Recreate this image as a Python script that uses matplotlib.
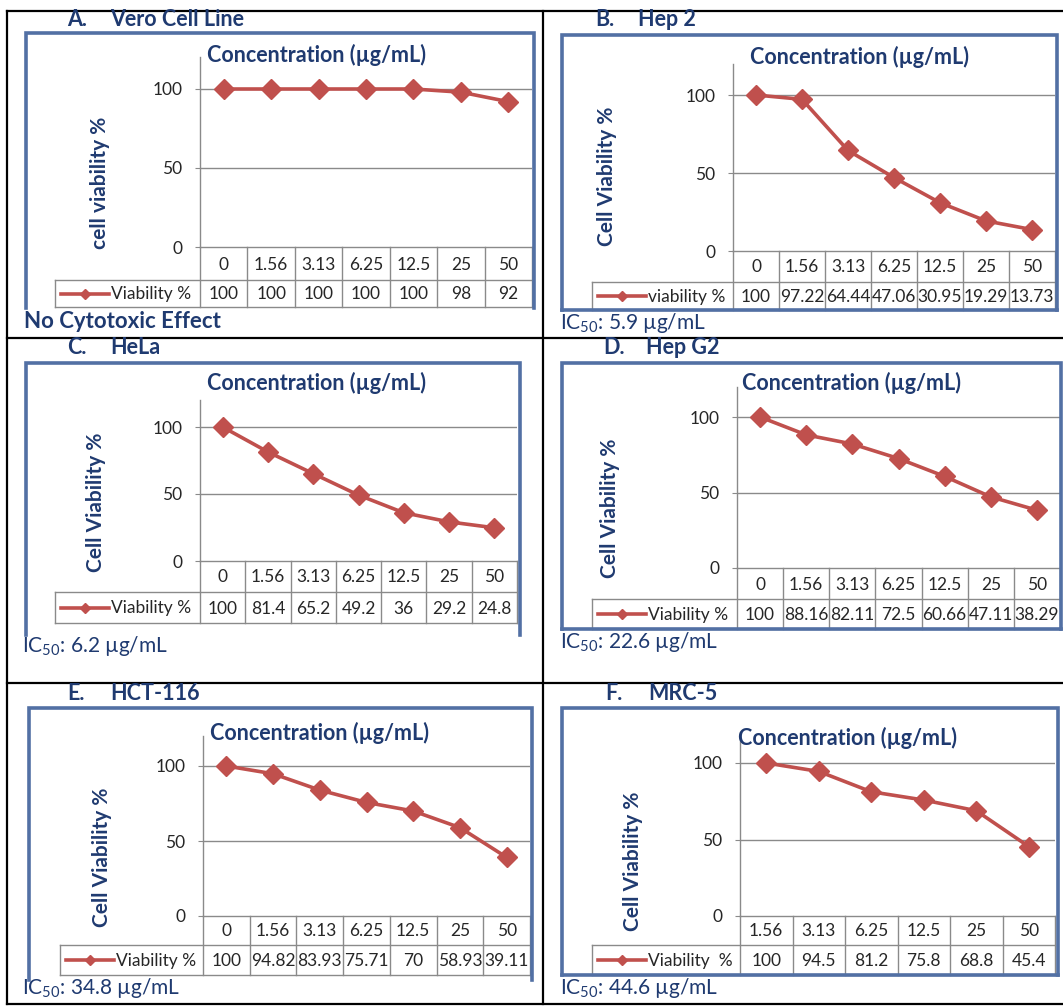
import matplotlib
matplotlib.use("Agg")
import matplotlib.pyplot as plt
from matplotlib.lines import Line2D
from matplotlib.text import Text
import matplotlib.transforms as mtransforms

plt.rcParams['font.family'] = ['Lato', 'DejaVu Sans']
plt.rcParams['mathtext.fontset'] = 'custom'
plt.rcParams['mathtext.rm'] = 'Lato'
plt.rcParams['mathtext.bf'] = 'Lato:bold'
plt.rcParams['mathtext.it'] = 'Lato:italic'

# ---------------- data ----------------
conc7 = ["0", "1.56", "3.13", "6.25", "12.5", "25", "50"]
conc6 = ["1.56", "3.13", "6.25", "12.5", "25", "50"]

vero_vals = [100, 100, 100, 100, 100, 98, 92]
vero_labels = ["100", "100", "100", "100", "100", "98", "92"]
hep2_vals = [100, 97.22, 64.44, 47.06, 30.95, 19.29, 13.73]
hep2_labels = ["100", "97.22", "64.44", "47.06", "30.95", "19.29", "13.73"]
hela_vals = [100, 81.4, 65.2, 49.2, 36, 29.2, 24.8]
hela_labels = ["100", "81.4", "65.2", "49.2", "36", "29.2", "24.8"]
hepg2_vals = [100, 88.16, 82.11, 72.5, 60.66, 47.11, 38.29]
hepg2_labels = ["100", "88.16", "82.11", "72.5", "60.66", "47.11", "38.29"]
hct_vals = [100, 94.82, 83.93, 75.71, 70, 58.93, 39.11]
hct_labels = ["100", "94.82", "83.93", "75.71", "70", "58.93", "39.11"]
mrc_vals = [100, 94.5, 81.2, 75.8, 68.8, 45.4]
mrc_labels = ["100", "94.5", "81.2", "75.8", "68.8", "45.4"]

title_letters = ["A.", "B.", "C.", "D.", "E.", "F."]
title_names = ["Vero Cell Line", "Hep 2", "HeLa", "Hep G2", "HCT-116", "MRC-5"]
ylabels = ["cell viability %", "Cell Viability %", "Cell Viability %",
           "Cell Viability %", "Cell Viability %", "Cell Viability %"]
legend_labels = ["Viability %", "viability %", "Viability %", "Viability %",
                 "Viability %", "Viability  %"]
notes = ["No Cytotoxic Effect", r"IC$_{50}$: 5.9 µg/mL", r"IC$_{50}$: 6.2 µg/mL",
         r"IC$_{50}$: 22.6 µg/mL", r"IC$_{50}$: 34.8 µg/mL", r"IC$_{50}$: 44.6 µg/mL"]
xtitle = "Concentration (µg/mL)"
yticks = [0, 50, 100]

# ---------------- layout (pixels) ----------------
W, H = 1063, 1006
NAVY = "#1f3a70"
RED = "#c0504d"
GRID = "#8a8a8a"
FRAME = "#5270a4"
TXT = "#262626"

panels = [
    dict(cats=conc7, vals=vero_vals, labs=vero_labels, axl=200, axr=532, y0=247, y100=89,
         r1=280, r2=307, legl=55, frame=(26, 33, 534, 308), fbottom=False,
         title=(67, 20), yl=(100, 183), note=(24, 321), nbold=True, conc=(207, 55)),
    dict(cats=conc7, vals=hep2_vals, labs=hep2_labels, axl=733, axr=1055, y0=251, y100=95,
         r1=282, r2=310, legl=592, frame=(562, 35, 1057, 310), fbottom=True,
         title=(595, 20), yl=(607, 176), note=(560, 323), nbold=False, conc=(750, 57)),
    dict(cats=conc7, vals=hela_vals, labs=hela_labels, axl=200, axr=517, y0=561, y100=427,
         r1=592, r2=623, legl=55, frame=(26, 363, 520, 635), fbottom=False,
         title=(67, 348), yl=(96, 502), note=(22, 646), nbold=False, conc=(207, 383)),
    dict(cats=conc7, vals=hepg2_vals, labs=hepg2_labels, axl=737, axr=1060, y0=568, y100=417,
         r1=599, r2=629, legl=592, frame=(562, 363, 1061, 629), fbottom=True,
         title=(603, 348), yl=(610, 508), note=(560, 642), nbold=False, conc=(742, 383)),
    dict(cats=conc7, vals=hct_vals, labs=hct_labels, axl=203, axr=530, y0=916, y100=766,
         r1=945, r2=975, legl=60, frame=(29, 708, 532, 980), fbottom=False,
         title=(67, 693), yl=(102, 857), note=(22, 988), nbold=False, conc=(210, 733)),
    dict(cats=conc6, vals=mrc_vals, labs=mrc_labels, axl=740, axr=1055, y0=916, y100=763,
         r1=945, r2=975, legl=592, frame=(562, 708, 1058, 975), fbottom=True,
         title=(605, 693), yl=(633, 861), note=(560, 988), nbold=False, conc=(738, 738)),
]


def fx(x):
    return x / W


def fy(y):
    return 1 - y / H


fig = plt.figure(figsize=(W / 100, H / 100), dpi=100)
fig.patch.set_facecolor("white")


def fline(xs, ys, **kw):
    fig.add_artist(Line2D([fx(x) for x in xs], [fy(y) for y in ys],
                          transform=fig.transFigure, **kw))


# outer black grid
for y in (11, 338, 683, 1004):
    fline([7, 1063], [y, y], color="black", lw=1.6)
for x in (7, 543):
    fline([x, x], [11, 1004], color="black", lw=1.6)

for i, p in enumerate(panels):
    n = len(p['cats'])
    ppu = (p['y0'] - p['y100']) / 100.0
    top = p['y0'] - 120 * ppu
    ax = fig.add_axes([fx(p['axl']), fy(p['y0']), (p['axr'] - p['axl']) / W,
                       (p['y0'] - top) / H])
    ax.set_facecolor("none")
    xs = list(range(n))
    ax.plot(xs, p['vals'], color=RED, lw=2.6, marker='D', ms=10,
            markerfacecolor=RED, markeredgecolor=RED, zorder=3, clip_on=False)
    ax.set_xlim(-0.5, n - 0.5)
    ax.set_ylim(0, 120)
    ax.set_yticks(yticks)
    ax.set_yticklabels([str(t) for t in yticks], fontsize=12.5, color=TXT)
    ax.tick_params(axis='y', length=3.5, color=GRID, pad=9)
    ax.set_xticks([])
    for t in (50, 100):
        ax.axhline(t, color=GRID, lw=1.0, zorder=1)
    for s in ('top', 'right', 'bottom'):
        ax.spines[s].set_visible(False)
    ax.spines['left'].set_color(GRID)
    ax.spines['left'].set_linewidth(1.0)

    # data table under the axis
    blend = mtransforms.blended_transform_factory(ax.transData, fig.transFigure)
    y0, r1, r2 = p['y0'], p['r1'], p['r2']
    for j in range(n + 1):
        fig.add_artist(Line2D([j - 0.5, j - 0.5], [fy(y0), fy(r2)], transform=blend,
                              color=GRID, lw=1.0))
    fig.add_artist(Line2D([-0.5, n - 0.5], [fy(y0), fy(y0)], transform=blend,
                          color=GRID, lw=1.0))
    fline([p['legl'], p['axr']], [r1, r1], color=GRID, lw=1.0)
    fline([p['legl'], p['axr']], [r2, r2], color=GRID, lw=1.0)
    fline([p['legl'], p['legl']], [r1, r2], color=GRID, lw=1.0)
    for j in range(n):
        fig.add_artist(Text(j, fy((y0 + r1) / 2 + 1), p['cats'][j], transform=blend,
                            ha='center', va='center', fontsize=12.5, color=TXT))
        fig.add_artist(Text(j, fy((r1 + r2) / 2 + 1), p['labs'][j], transform=blend,
                            ha='center', va='center', fontsize=12.5, color=TXT))
    # legend key
    ly = (r1 + r2) / 2
    lx0 = p['legl'] + 6
    fline([lx0, lx0 + 48], [ly, ly], color=RED, lw=2.6)
    fline([lx0 + 24], [ly], color=RED, marker='D', ms=5, lw=0)
    fig.text(fx(lx0 + 50), fy(ly + 1), legend_labels[i], ha='left', va='center',
             fontsize=12.5, color=TXT)

    # blue chart frame
    fx0, fy0, fx1, fy1 = p['frame']
    fline([fx0, fx0, fx1, fx1], [fy1, fy0, fy0, fy1], color=FRAME, lw=2.6,
          solid_joinstyle='miter')
    if p['fbottom']:
        fline([fx0, fx1], [fy1, fy1], color=FRAME, lw=2.6)

    # texts
    tx, ty = p['title']
    fig.text(fx(tx), fy(ty), title_letters[i], ha='left', va='center',
             fontsize=15.5, fontweight='bold', color=NAVY)
    fig.text(fx(tx + 43), fy(ty), title_names[i], ha='left', va='center',
             fontsize=15.5, fontweight='bold', color=NAVY)
    fig.text(fx(p['conc'][0]), fy(p['conc'][1]), xtitle, ha='left', va='center',
             fontsize=15.5, fontweight='bold', color=NAVY)
    fig.text(fx(p['yl'][0]), fy(p['yl'][1]), ylabels[i], ha='center', va='center',
             rotation=90, fontsize=15, fontweight='bold', color=NAVY)
    fig.text(fx(p['note'][0]), fy(p['note'][1]), notes[i], ha='left', va='center',
             fontsize=16 if p['nbold'] else 15,
             fontweight='bold' if p['nbold'] else 'normal', color=NAVY)

fig.savefig("out.png", dpi=100, facecolor="white")
